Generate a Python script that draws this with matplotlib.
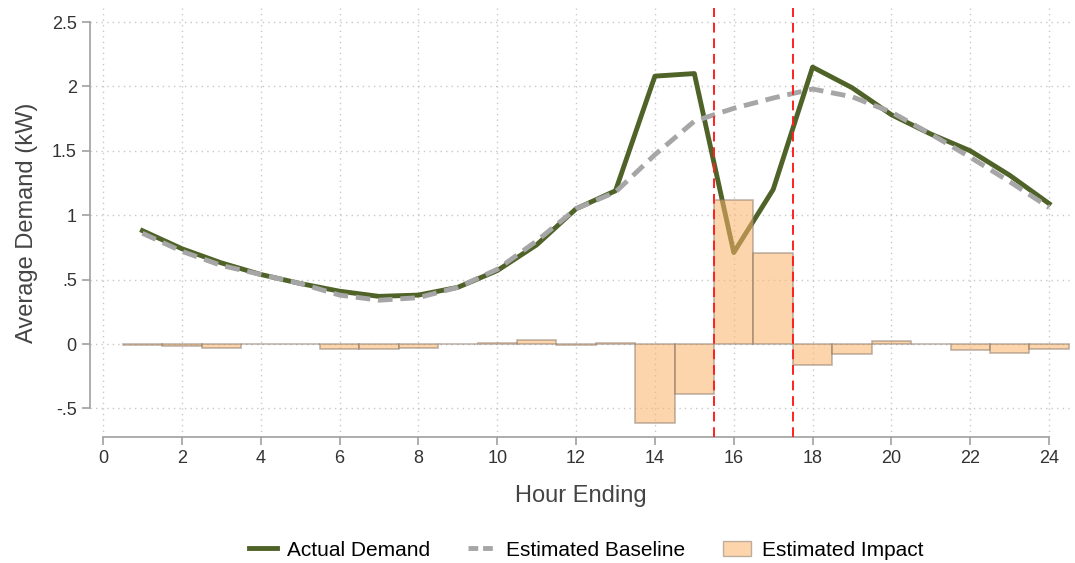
import numpy as np
import matplotlib.pyplot as plt
from matplotlib.patches import Patch
from matplotlib.lines import Line2D

hours = np.arange(1, 25)
actual = [0.88, 0.74, 0.63, 0.54, 0.47, 0.41, 0.37, 0.38, 0.44, 0.57, 0.77, 1.05,
          1.19, 2.08, 2.10, 0.71, 1.20, 2.15, 1.99, 1.78, 1.63, 1.50, 1.31, 1.09]
baseline = [0.86, 0.72, 0.61, 0.54, 0.47, 0.38, 0.34, 0.36, 0.44, 0.58, 0.80, 1.05,
            1.18, 1.47, 1.73, 1.83, 1.91, 1.98, 1.92, 1.80, 1.63, 1.45, 1.26, 1.06]
impact = [-0.01, -0.015, -0.03, 0.0, 0.0, -0.035, -0.035, -0.03, 0.0, 0.005, 0.03, -0.005,
          0.005, -0.61, -0.39, 1.12, 0.71, -0.16, -0.08, 0.02, 0.0, -0.05, -0.07, -0.04]
event_bounds = [15.5, 17.5]
yticks = [-0.5, 0, 0.5, 1, 1.5, 2, 2.5]
ytick_labels = ["-.5", "0", ".5", "1", "1.5", "2", "2.5"]

plt.rcParams.update({
    "font.family": ["Liberation Sans", "DejaVu Sans"],
    "font.size": 11,
})

green = "#4F6228"
gray = "#A6A6A6"
peach = "#FDB46B"
edge = "#8C7B6B"
axcol = "#A0A0A0"

fig = plt.figure(figsize=(10.75, 5.63), dpi=100)
ax = fig.add_axes([90 / 1075, 1 - 437 / 563, (1072 - 90) / 1075, (437 - 8) / 563])

ax.bar(hours, impact, width=1.0, color=peach, alpha=0.55, edgecolor=edge,
       linewidth=1.2, zorder=4)
ax.plot(hours, actual, color=green, linewidth=3.5, zorder=3)
ax.plot(hours, baseline, color=gray, linewidth=3.5, linestyle=(0, (3, 1.6)), zorder=3.5)
for xb in event_bounds:
    ax.axvline(xb, color="#FF2020", linestyle=(0, (5, 3)), linewidth=1.4, zorder=5)

ax.set_xlim(-0.33, 24.58)
ax.set_ylim(-0.722, 2.609)
ax.set_xticks(np.arange(0, 25, 2))
ax.set_yticks(yticks)
ax.set_yticklabels(ytick_labels)
ax.grid(True, linestyle=(0, (1, 3)), color="#C8C8C8", linewidth=1.0)
ax.set_axisbelow(True)

for s in ["top", "right"]:
    ax.spines[s].set_visible(False)
ax.spines["left"].set_bounds(-0.5, 2.5)
ax.spines["bottom"].set_bounds(0, 24)
for s in ["left", "bottom"]:
    ax.spines[s].set_color(axcol)
    ax.spines[s].set_linewidth(1.2)
ax.tick_params(axis="both", colors=axcol, labelcolor="#333333", length=6,
               width=1.2, labelsize=13)

ax.set_xlabel("Hour Ending", fontsize=17, color="#444444", labelpad=13)
ax.set_ylabel("Average Demand (kW)", fontsize=17, color="#444444", labelpad=10)

handles = [
    Line2D([0], [0], color=green, linewidth=3.5),
    Line2D([0], [0], color=gray, linewidth=3.5, linestyle=(0, (2, 1))),
    Patch(facecolor=peach, alpha=0.55, edgecolor=edge),
]
fig.legend(handles, ["Actual Demand", "Estimated Baseline", "Estimated Impact"],
           loc="center", bbox_to_anchor=(0.545, 1 - 550 / 563), ncol=3, frameon=False,
           fontsize=15, handlelength=1.35, handletextpad=0.5, columnspacing=1.8)

fig.savefig("out.png", dpi=100)
